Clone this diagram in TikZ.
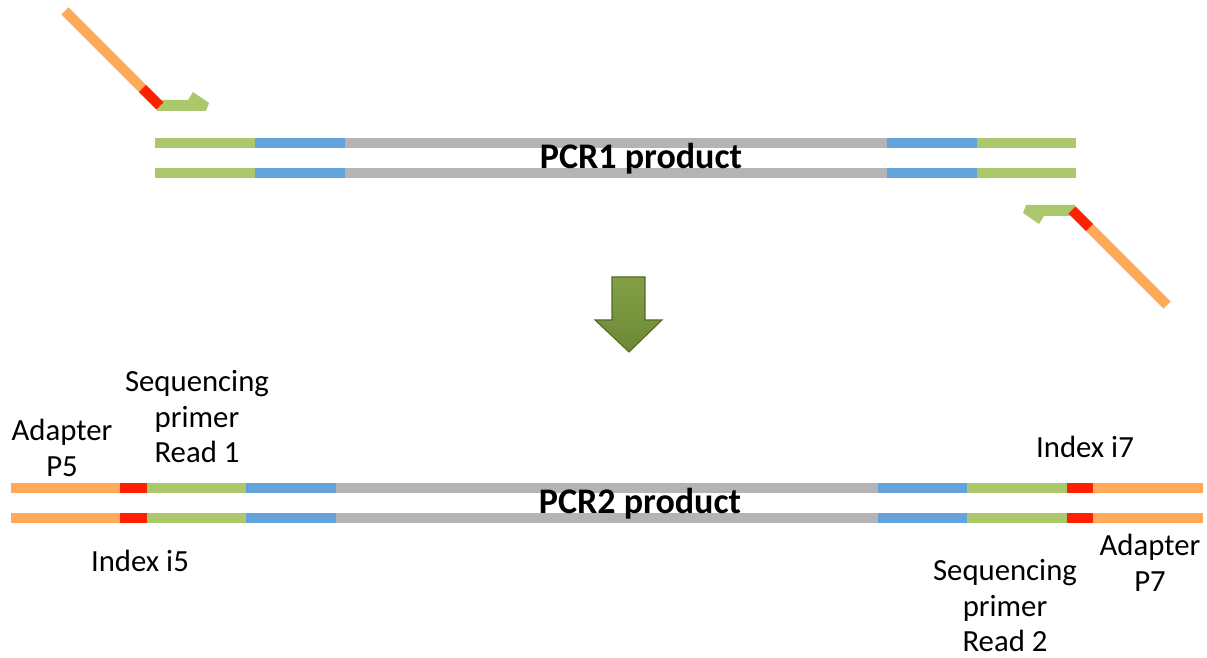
\documentclass[tikz,border=0pt]{standalone}
\usepackage{fontspec}
\setmainfont{Carlito}
\definecolor{adapterorange}{RGB}{255,169,89}
\definecolor{indexred}{RGB}{255,32,0}
\definecolor{seqgreen}{RGB}{172,200,108}
\definecolor{ampblue}{RGB}{100,162,220}
\definecolor{insertgray}{RGB}{180,180,180}
\definecolor{arrowtop}{RGB}{132,160,70}
\definecolor{arrowbottom}{RGB}{108,136,52}
\definecolor{arrowdark}{RGB}{84,104,42}
\begin{document}
\begin{tikzpicture}[x=0.02cm,y=-0.02cm,
    strand/.style={line width=5.7pt},
    primerline/.style={line width=5.7pt},
    productlabel/.style={font=\fontsize{20.5}{22}\selectfont\bfseries, inner sep=0pt},
    partlabel/.style={align=center, font=\fontsize{17.5}{20.2}\selectfont, inner sep=0pt}]
	\useasboundingbox (0,0) rectangle (1207,658);
	
	% PCR1 Produkt
	\foreach \y in {143,173} {
		\foreach \a/\b/\c in {155/255/seqgreen, 255/345/ampblue, 345/887/insertgray, 887/977/ampblue, 977/1076/seqgreen} {
			\draw[strand,\c] (\a,\y) -- (\b,\y);
		}
	}
	\node[productlabel] (pcr1) at (641,159) {PCR1 product};
	
	% Primer (oben links, unten rechts gedreht)
	\foreach \r in {0,180} {
		\begin{scope}[rotate around={\r:(616,158)}]
			\fill[seqgreen] (157,100) -- (188,100) -- (193,92) -- (209,103) -- (206,111) -- (157,111) -- cycle;
			\draw[primerline,adapterorange] (65,11) -- (142.5,88.5);
			\draw[primerline,indexred] (142.5,88.5) -- (160,106);
		\end{scope}
	}
	
	% Pfeil
	\shade[top color=arrowtop, bottom color=arrowbottom, draw=arrowdark, line width=0.6pt]
		(612,277) -- (645,277) -- (645,320) -- (662,320) -- (629,352) -- (595,320) -- (612,320) -- cycle;
	
	% PCR2 Produkt
	\foreach \y in {488,518} {
		\foreach \a/\b/\c in {11/120/adapterorange, 120/147/indexred, 147/246/seqgreen, 246/336/ampblue, 336/878/insertgray, 878/967/ampblue, 967/1067/seqgreen, 1067/1093/indexred, 1093/1203/adapterorange} {
			\draw[strand,\c] (\a,\y) -- (\b,\y);
		}
	}
	\node[productlabel] (pcr2) at (640,504) {PCR2 product};
	
	% labels
	\node[partlabel] (p5) at (62,448) {Adapter\\P5};
	\node[partlabel] (read1) at (197,417) {Sequencing\\primer\\Read 1};
	\node[partlabel] (i5) at (140,561) {Index i5};
	\node[partlabel] (i7) at (1085,447) {Index i7};
	\node[partlabel] (p7) at (1150,563) {Adapter\\P7};
	\node[partlabel] (read2) at (1005,606) {Sequencing\\primer\\Read 2};
	
\end{tikzpicture}
\end{document}
